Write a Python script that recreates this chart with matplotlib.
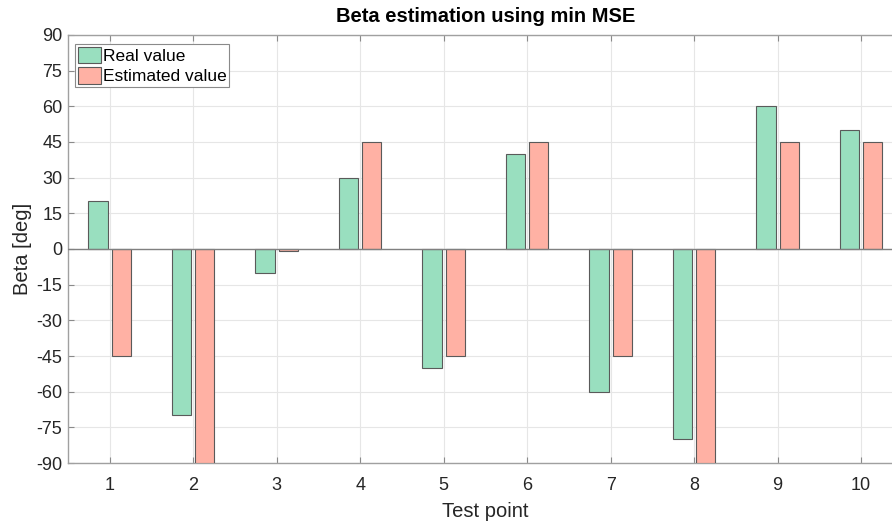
import numpy as np
import matplotlib.pyplot as plt

# Beta estimates at each test point
test_points = np.arange(1, 11)
beta_real = [20, -70, -10, 30, -50, 40, -60, -80, 60, 50]
beta_est = [-45, -90, -1, 45, -45, 45, -45, -90, 45, 45]

plt.rcParams['font.family'] = ['Liberation Sans', 'DejaVu Sans']
plt.rcParams['axes.unicode_minus'] = False

fig = plt.figure(figsize=(8.92, 5.22), dpi=100)
ax = fig.add_axes([0.0762, 0.113, 0.936, 0.820])

w = 0.23
off = 0.14
c_real = '#99dfbf'
c_est = '#ffb1a4'
edge = '#5a5a5a'
ax.bar(test_points - off, beta_real, w, color=c_real, edgecolor=edge,
       linewidth=0.8, label='Real value', zorder=3)
ax.bar(test_points + off, beta_est, w, color=c_est, edgecolor=edge,
       linewidth=0.8, label='Estimated value', zorder=3)
ax.axhline(0, color='#808080', linewidth=1.0, zorder=4)

ax.set_xlim(0.5, 10.5)
ax.set_ylim(-90, 90)
ax.set_xticks(test_points)
ax.set_yticks(np.arange(-90, 91, 15))
ax.grid(True, color='#e6e6e6', linewidth=0.8, zorder=0)
ax.tick_params(direction='in', top=True, right=True, length=4,
               color='#8a8a8a', labelsize=13, labelcolor='#262626')
ax.tick_params(axis='x', pad=10)
ax.tick_params(axis='y', pad=4)
for s in ax.spines.values():
    s.set_color('#a0a0a0')
    s.set_linewidth(1.0)

ax.set_title('Beta estimation using min MSE', fontsize=14.5, fontweight='bold', pad=9)
ax.set_xlabel('Test point', fontsize=14.5, color='#262626', labelpad=6)
ax.set_ylabel('Beta [deg]', fontsize=14.5, color='#262626', labelpad=3)

leg = ax.legend(loc='upper left', bbox_to_anchor=(0.0084, 0.978),
                borderaxespad=0, fontsize=12.5, fancybox=False,
                handlelength=1.35, handleheight=1.05, handletextpad=0.1,
                borderpad=0.15, labelspacing=0.2, framealpha=1)
leg.get_frame().set_edgecolor('#8a8a8a')
leg.get_frame().set_linewidth(0.8)

fig.savefig('out.png', dpi=100)
